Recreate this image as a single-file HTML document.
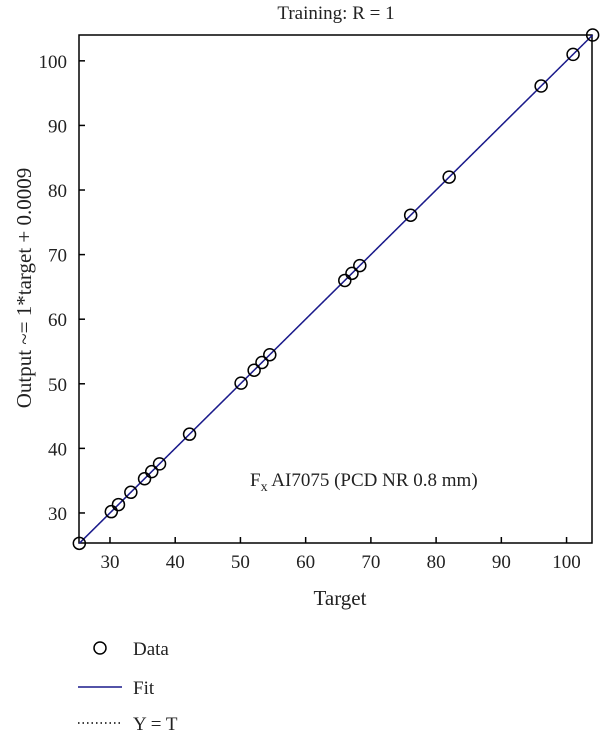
<!DOCTYPE html>
<html><head><meta charset="utf-8"><style>
body{margin:0;background:#fff;font-family:"Liberation Serif",serif;}
svg text{font-family:"Liberation Serif",serif;fill:#222;}
</style></head><body>
<svg id="c" width="600" height="741" xmlns="http://www.w3.org/2000/svg">
<text x="336" y="19" font-size="19" text-anchor="middle">Training: R = 1</text>
<g id="plot"></g>
<text x="340" y="605" font-size="21" text-anchor="middle">Target</text>
<text transform="translate(31,288) rotate(-90)" font-size="21" text-anchor="middle">Output ~= 1*target + 0.0009</text>
<text x="250" y="486" font-size="19">F<tspan font-size="14" dy="5">x</tspan><tspan dy="-5"> AI7075 (PCD NR 0.8 mm)</tspan></text>
<g>
<circle cx="100" cy="648" r="6" fill="none" stroke="#000" stroke-width="1.5"/>
<text x="133" y="655" font-size="19">Data</text>
<line x1="78" y1="687" x2="122" y2="687" stroke="#1a1a8c" stroke-width="1.5"/>
<text x="133" y="694" font-size="19">Fit</text>
<line x1="78" y1="723" x2="122" y2="723" stroke="#000" stroke-width="1.5" stroke-dasharray="1.5,3"/>
<text x="133" y="730" font-size="19">Y = T</text>
</g>
</svg>
<script>
const targets=[25.3,30.2,31.3,33.2,35.3,36.4,37.6,42.2,50.1,52.1,53.3,54.5,66.0,67.1,68.3,76.1,82.0,96.1,101.0,104.0];
const outputs=[25.3,30.2,31.3,33.2,35.3,36.4,37.6,42.2,50.1,52.1,53.3,54.5,66.0,67.1,68.3,76.1,82.0,96.1,101.0,104.0];
const xTicks=[30,40,50,60,70,80,90,100];
const yTicks=[30,40,50,60,70,80,90,100];
const fitSlope=1, fitIntercept=0.0009;
const X0=79,X1=592,Y0=543,Y1=35,xmin=25.25,xmax=103.9,ymin=25.35,ymax=104.0;
const sx=v=>X0+(v-xmin)/(xmax-xmin)*(X1-X0);
const sy=v=>Y0-(v-ymin)/(ymax-ymin)*(Y0-Y1);
const NS="http://www.w3.org/2000/svg";
const g=document.getElementById('plot');
function mk(t,a){const e=document.createElementNS(NS,t);for(const k in a)e.setAttribute(k,a[k]);g.appendChild(e);return e;}
let e=mk('rect',{x:X0,y:Y1,width:X1-X0,height:Y0-Y1,fill:'none',stroke:'#000','stroke-width':1.5});


xTicks.forEach(v=>{
 let l=mk('line',{x1:sx(v),x2:sx(v),y1:Y0,y2:Y0-6,stroke:'#000','stroke-width':1.5});
 
 
 let t=mk('text',{x:sx(v),y:Y0+25,'font-size':19,'text-anchor':'middle'});t.textContent=v;
 
 
});
yTicks.forEach(v=>{
 let l=mk('line',{x1:X0,x2:X0+6,y1:sy(v),y2:sy(v),stroke:'#000','stroke-width':1.5});
 
 
 let t=mk('text',{x:X0-12,y:sy(v)+7,'font-size':19,'text-anchor':'end'});t.textContent=v;
 
 
});
const lo=Math.min(...targets),hi=Math.max(...targets);
e=mk('line',{x1:sx(lo),y1:sy(lo),x2:sx(hi),y2:sy(hi),stroke:'#000','stroke-width':1.2,'stroke-dasharray':'1.5,3'});


e=mk('line',{x1:sx(lo),y1:sy(fitSlope*lo+fitIntercept),x2:sx(hi),y2:sy(fitSlope*hi+fitIntercept),stroke:'#1a1a8c','stroke-width':1.5});


targets.forEach((t,i)=>{
 let c=mk('circle',{cx:sx(t),cy:sy(outputs[i]),r:6,fill:'none',stroke:'#000','stroke-width':1.5});
 
 
});
</script>
</body></html>
